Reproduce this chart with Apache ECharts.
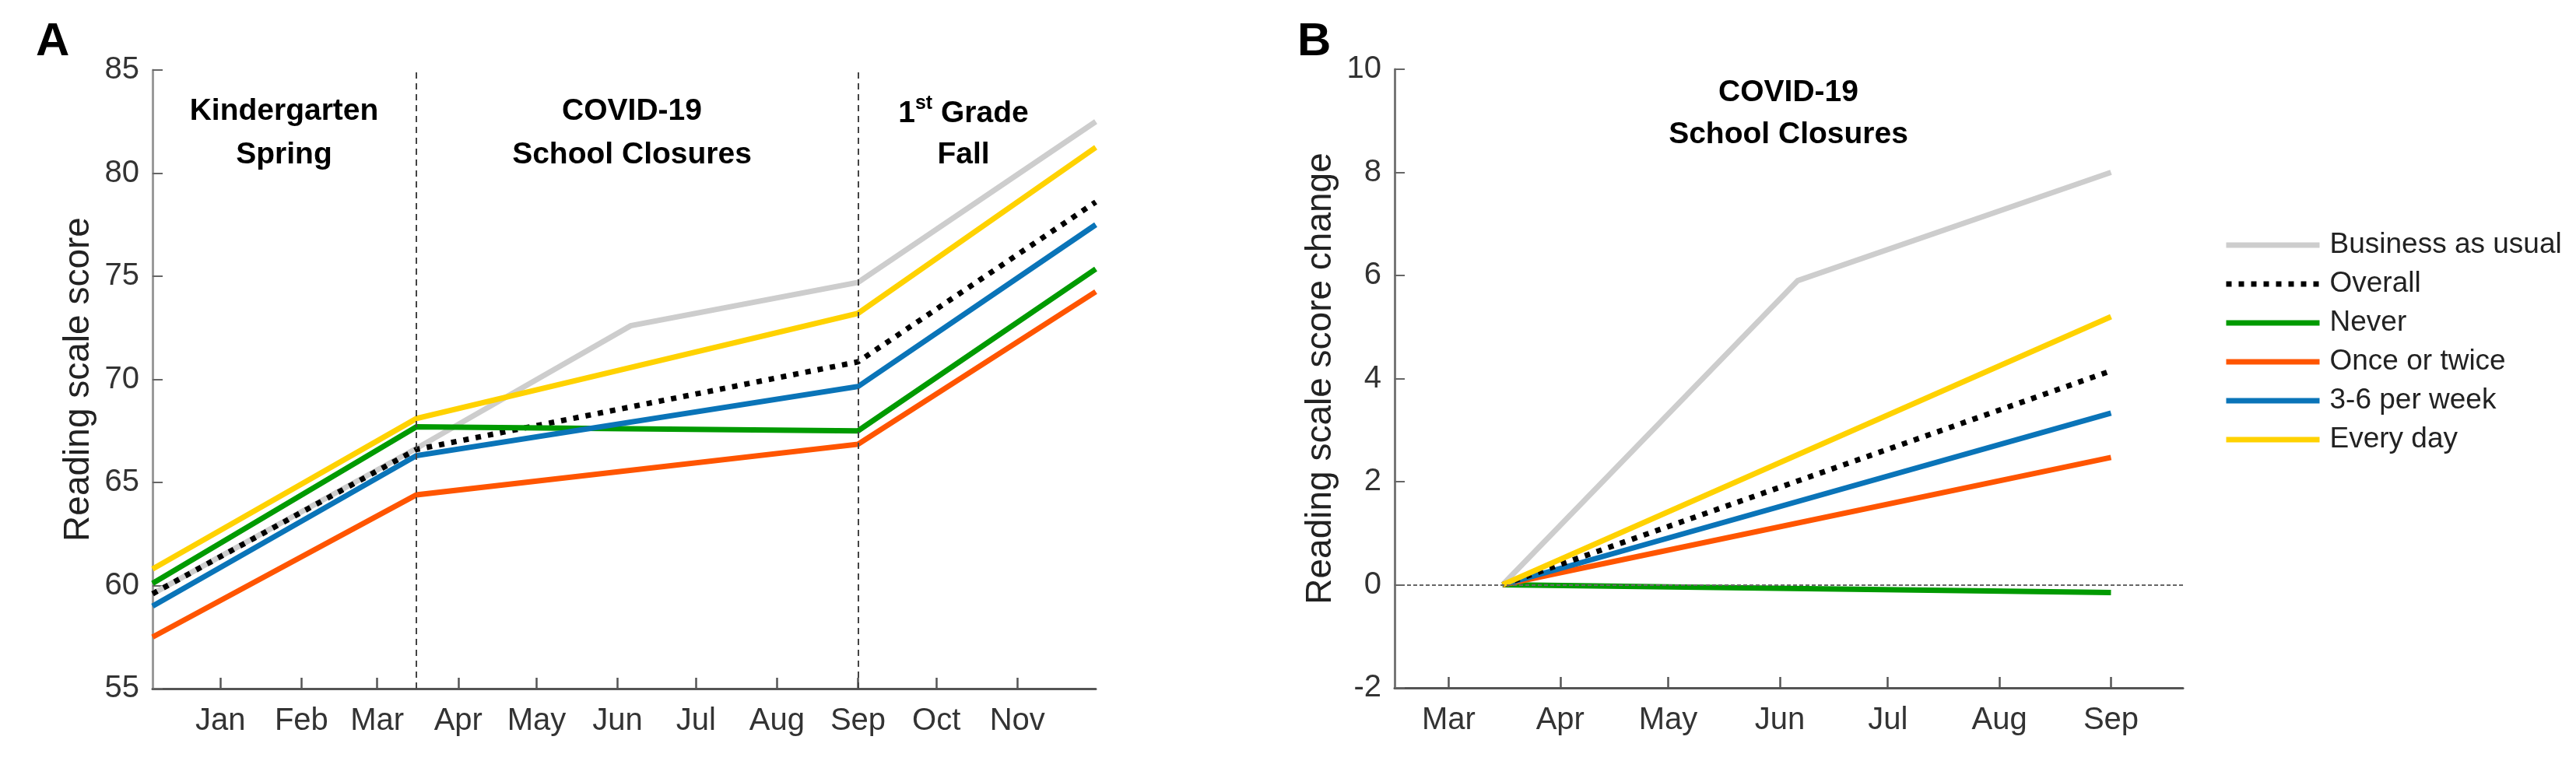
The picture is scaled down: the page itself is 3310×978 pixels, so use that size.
<!DOCTYPE html>
<html>
<head>
<meta charset="utf-8">
<script src="https://cdn.jsdelivr.net/npm/echarts@6/dist/echarts.min.js"></script>
<style>
  html, body { margin: 0; padding: 0; background: #ffffff; }
  #chart { width: 3310px; height: 978px; }
</style>
</head>
<body>
<div id="chart"></div>
<script>
// ---------------- data ----------------
const seriesNames = ['Business as usual', 'Overall', 'Never', 'Once or twice', '3-6 per week', 'Every day'];
const monthNames = ['Jan','Feb','Mar','Apr','May','Jun','Jul','Aug','Sep','Oct','Nov','Dec'];

// Panel A: reading scale score
const datesA    = ['2019-12-06', '2020-03-16', '2020-09-01', '2020-12-01'];
const datesBauA = ['2019-12-06', '2020-03-16', '2020-06-06', '2020-09-01', '2020-12-01'];
const bauA      = [59.6, 66.65, 72.6, 74.7, 82.5];
const overallA  = [59.6, 66.6, 70.85, 78.6];
const neverA    = [60.1, 67.7, 67.5, 75.35];
const onceA     = [57.5, 64.4, 66.85, 74.25];
const weekA     = [59.0, 66.3, 69.65, 77.5];
const everyA    = [60.8, 68.1, 73.2, 81.25];
const ticksA    = ['2020-01-01','2020-02-01','2020-03-01','2020-04-01','2020-05-01','2020-06-01',
                   '2020-07-01','2020-08-01','2020-09-01','2020-10-01','2020-11-01'];
const periodBoundaries = ['2020-03-16', '2020-09-01'];

// Panel B: reading scale score change
const datesB    = ['2020-03-16', '2020-09-01'];
const datesBauB = ['2020-03-16', '2020-06-06', '2020-09-01'];
const bauB      = [0, 5.9, 8.0];
const overallB  = [0, 4.15];
const neverB    = [0, -0.15];
const onceB     = [0, 2.47];
const weekB     = [0, 3.33];
const everyB    = [0, 5.2];
const ticksB    = ['2020-03-01','2020-04-01','2020-05-01','2020-06-01','2020-07-01','2020-08-01','2020-09-01'];

// ---------------- helpers ----------------
const t = s => new Date(s + 'T00:00:00').getTime();
const pair = (dates, vals) => dates.map((d, i) => [t(d), vals[i]]);
const FONT = "'Liberation Sans', Arial, Helvetica, sans-serif";

const styles = {
  'Business as usual': { color: '#cdcdcd', type: 'solid' },
  'Overall':           { color: '#000000', type: [7, 9] },
  'Never':             { color: '#009a00', type: 'solid' },
  'Once or twice':     { color: '#ff5500', type: 'solid' },
  '3-6 per week':      { color: '#0a74b8', type: 'solid' },
  'Every day':         { color: '#ffd200', type: 'solid' }
};

function mkSeries(name, data, gi, extra) {
  const st = styles[name];
  return Object.assign({
    name: name, type: 'line', xAxisIndex: gi, yAxisIndex: gi, data: data,
    symbol: 'none', showSymbol: false, smooth: false, silent: true, animation: false,
    color: st.color,
    lineStyle: { color: st.color, width: 7, type: st.type, cap: 'butt', join: 'miter' }
  }, extra || {});
}

function xAxisCfg(gi, min, max, ticks) {
  const vals = ticks.map(t);
  return {
    type: 'value', gridIndex: gi, min: t(min), max: t(max), scale: true,
    axisLine: { show: true, onZero: false, lineStyle: { color: '#555555', width: 3 } },
    axisTick: { show: true, inside: true, length: 14, customValues: vals,
                lineStyle: { color: '#555555', width: 2.5 } },
    axisLabel: { show: true, customValues: vals, margin: 22, fontSize: 40, fontFamily: FONT, color: '#333333',
                 showMinLabel: true, showMaxLabel: true,
                 formatter: v => monthNames[new Date(v).getMonth()] },
    splitLine: { show: false }
  };
}

function yAxisCfg(gi, min, max, interval, name, axisColor) {
  return {
    type: 'value', gridIndex: gi, min: min, max: max, interval: interval,
    name: name, nameLocation: 'middle', nameGap: 72,
    nameTextStyle: { fontSize: 46, fontFamily: FONT, color: '#222222' },
    axisLine: { show: true, onZero: false, lineStyle: { color: axisColor, width: 3 } },
    axisTick: { show: true, inside: true, length: 13, lineStyle: { color: '#666666', width: 2 } },
    axisLabel: { show: true, margin: 17, fontSize: 40, fontFamily: FONT, color: '#333333' },
    splitLine: { show: false }
  };
}

const seriesA = [
  mkSeries('Business as usual', pair(datesBauA, bauA), 0, {
    markLine: {
      silent: true, symbol: 'none', animation: false, label: { show: false },
      lineStyle: { color: '#444444', width: 2, type: [8, 6] },
      data: periodBoundaries.map(d => ({ xAxis: t(d) }))
    }
  }),
  mkSeries('Overall', pair(datesA, overallA), 0),
  mkSeries('Never', pair(datesA, neverA), 0),
  mkSeries('Once or twice', pair(datesA, onceA), 0),
  mkSeries('3-6 per week', pair(datesA, weekA), 0),
  mkSeries('Every day', pair(datesA, everyA), 0)
];

const seriesB = [
  mkSeries('Business as usual', pair(datesBauB, bauB), 1, {
    markLine: {
      silent: true, symbol: 'none', animation: false, label: { show: false },
      lineStyle: { color: '#666666', width: 2, type: [5, 3] },
      data: [{ yAxis: 0 }]
    }
  }),
  mkSeries('Never', pair(datesB, neverB), 1),
  mkSeries('Once or twice', pair(datesB, onceB), 1),
  mkSeries('3-6 per week', pair(datesB, weekB), 1),
  mkSeries('Overall', pair(datesB, overallB), 1),
  mkSeries('Every day', pair(datesB, everyB), 1)
];

const boldTxt = (text, x, y, size) => ({
  type: 'text', x: x, y: y, silent: true,
  style: { text: text, font: 'bold ' + (size || 39) + 'px ' + FONT, fill: '#000000',
           align: 'center', verticalAlign: 'middle' }
});

const option = {
  backgroundColor: '#ffffff',
  animation: false,
  grid: [
    { left: 196, top: 90, width: 1212, height: 795, containLabel: false },
    { left: 1792, top: 89, width: 1013, height: 795, containLabel: false }
  ],
  xAxis: [
    xAxisCfg(0, '2019-12-06', '2020-12-01', ticksA),
    xAxisCfg(1, '2020-02-15', '2020-09-21', ticksB)
  ],
  yAxis: [
    yAxisCfg(0, 55, 85, 5, 'Reading scale score', '#9a9a9a'),
    yAxisCfg(1, -2, 10, 2, 'Reading scale score change', '#777777')
  ],
  legend: {
    show: true, orient: 'vertical', left: 2852, top: 290,
    itemWidth: 120, itemHeight: 12, itemGap: 10,
    selectedMode: false,
    lineStyle: { width: 7 },
    itemStyle: { color: 'rgba(0,0,0,0)', borderWidth: 0, opacity: 0 },
    textStyle: { fontSize: 37, fontFamily: FONT, color: '#222222', lineHeight: 40, padding: [0, 0, 0, 8] },
    data: seriesNames
  },
  graphic: [
    { type: 'text', x: 46, y: 54, silent: true,
      style: { text: 'A', font: 'bold 60px ' + FONT, fill: '#000', align: 'left', verticalAlign: 'middle' } },
    { type: 'text', x: 1667, y: 54, silent: true,
      style: { text: 'B', font: 'bold 60px ' + FONT, fill: '#000', align: 'left', verticalAlign: 'middle' } },
    boldTxt('Kindergarten', 365, 143),
    boldTxt('Spring', 365, 199),
    boldTxt('COVID-19', 812, 143),
    boldTxt('School Closures', 812, 199),
    { type: 'text', x: 1238, y: 143, silent: true,
      style: {
        text: '{n|1}{s|st}{n| Grade}', align: 'center', verticalAlign: 'middle', fill: '#000',
        rich: {
          n: { font: 'bold 39px ' + FONT, fill: '#000', verticalAlign: 'bottom' },
          s: { font: 'bold 25px ' + FONT, fill: '#000', verticalAlign: 'bottom', padding: [0, 0, 20, 0] }
        }
      } },
    boldTxt('Fall', 1238, 199),
    boldTxt('COVID-19', 2298, 119),
    boldTxt('School Closures', 2298, 173)
  ],
  series: seriesA.concat(seriesB)
};

const chart = echarts.init(document.getElementById('chart'), null, { renderer: 'canvas' });
chart.setOption(option);
</script>
</body>
</html>
